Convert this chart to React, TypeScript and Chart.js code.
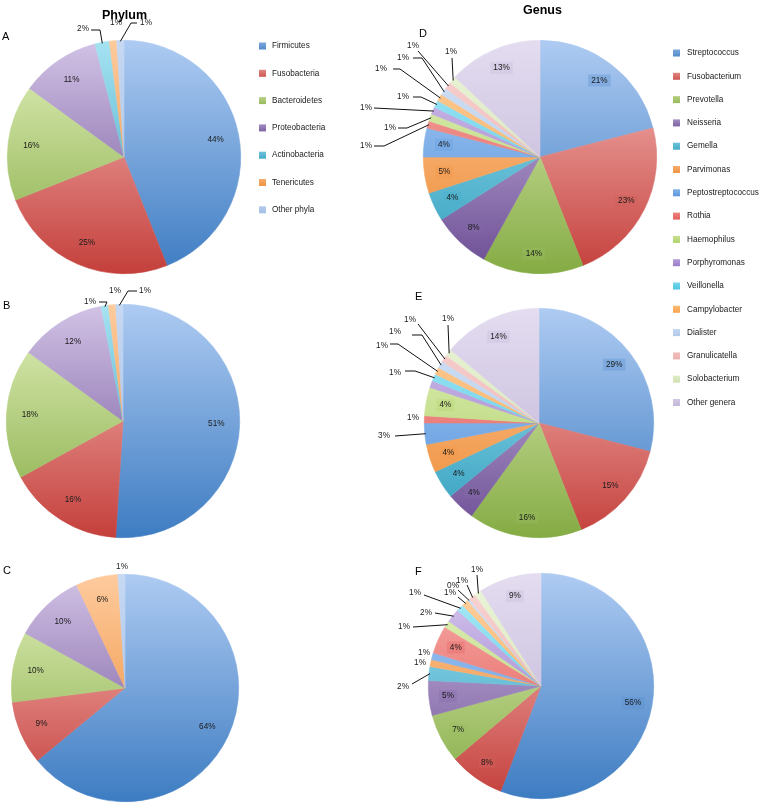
import React, { useEffect, useRef } from "react";
import { Chart, registerables } from "chart.js";

Chart.register(...registerables);

// ---------------- data ----------------
const phylumCategories = [
  "Firmicutes",
  "Fusobacteria",
  "Bacteroidetes",
  "Proteobacteria",
  "Actinobacteria",
  "Tenericutes",
  "Other phyla",
];
const phylumA = [44, 25, 16, 11, 2, 1, 1];
const phylumB = [51, 16, 18, 12, 1, 1, 1];
const phylumC = [64, 9, 10, 10, 0, 6, 1];

const genusCategories = [
  "Streptococcus",
  "Fusobacterium",
  "Prevotella",
  "Neisseria",
  "Gemella",
  "Parvimonas",
  "Peptostreptococcus",
  "Rothia",
  "Haemophilus",
  "Porphyromonas",
  "Veillonella",
  "Campylobacter",
  "Dialister",
  "Granulicatella",
  "Solobacterium",
  "Other genera",
];
const genusD = [21, 23, 14, 8, 4, 5, 4, 1, 1, 1, 1, 1, 1, 1, 1, 13];
const genusE = [29, 15, 16, 4, 4, 4, 3, 1, 4, 1, 1, 1, 1, 1, 1, 14];
const genusF = [56, 8, 7, 5, 2, 1, 1, 4, 1, 2, 1, 1, 0.3, 1, 1, 9];

// ---------------- styles ----------------
const FONT = '"Liberation Sans", Arial, Helvetica, sans-serif';

const baseColors: [string, string][] = [
  ["#AECBF2", "#3D7CC2"],
  ["#F8BFBC", "#C43F3B"],
  ["#E2F0BC", "#84AB43"],
  ["#D2C3E6", "#6A4B93"],
  ["#A6E3F2", "#2C9CBC"],
  ["#FECB9E", "#EC862C"],
];
const phylumColors: [string, string][] = [...baseColors, ["#C6D9F3", "#9CB8E2"]];
const genusColors: [string, string][] = [
  ...baseColors,
  ["#AFCFF6", "#4A8CD8"],
  ["#F9B3B0", "#DD4A45"],
  ["#E6F4C4", "#A3C955"],
  ["#D9CBF0", "#8B68C0"],
  ["#B2EDF9", "#33BBDC"],
  ["#FFD3A6", "#F69A36"],
  ["#D3E2F5", "#ABC5E9"],
  ["#F9D6D5", "#E6A5A3"],
  ["#ECF5DA", "#CADDA8"],
  ["#E4DDF0", "#BAADD3"],
];

function hexToRgb(h: string) {
  const n = parseInt(h.slice(1), 16);
  return [(n >> 16) & 255, (n >> 8) & 255, n & 255];
}
function mix(a: string, b: string, t: number, alpha = 1) {
  const A = hexToRgb(a);
  const B = hexToRgb(b);
  const c = A.map((v, k) => Math.round(v + (B[k] - v) * t));
  return `rgba(${c[0]},${c[1]},${c[2]},${alpha})`;
}

type Ext = { i: number; t: [number, number]; p: [number, number][] };

// external label layout (relative to pie centre, px)
const extA: Ext[] = [
  { i: 4, t: [-41, -128], p: [[-33, -127], [-24, -127]] },
  { i: 5, t: [-8, -134], p: [] },
  { i: 6, t: [22, -134], p: [[13, -134], [7, -134]] },
];
const extB: Ext[] = [
  { i: 4, t: [-33, -119], p: [[-24, -119], [-16, -119]] },
  { i: 5, t: [-8, -130], p: [] },
  { i: 6, t: [22, -130], p: [[14, -130], [5, -130]] },
];
const extC: Ext[] = [{ i: 6, t: [-3, -121], p: [] }];
const extD: Ext[] = [
  { i: 14, t: [-89, -105], p: [[-88, -99]] },
  { i: 13, t: [-127, -111], p: [[-122, -106]] },
  { i: 12, t: [-137, -99], p: [[-127, -99], [-118, -99]] },
  { i: 11, t: [-159, -88], p: [[-147, -88], [-140, -88]] },
  { i: 10, t: [-137, -60], p: [[-127, -60], [-119, -60]] },
  { i: 9, t: [-174, -49], p: [[-166, -49]] },
  { i: 8, t: [-150, -29], p: [[-142, -29], [-133, -29]] },
  { i: 7, t: [-174, -11], p: [[-166, -11], [-156, -11]] },
];
const extE: Ext[] = [
  { i: 14, t: [-91, -104], p: [[-91, -98]] },
  { i: 13, t: [-129, -103], p: [[-121, -99]] },
  { i: 12, t: [-144, -91], p: [[-127, -88], [-117, -88]] },
  { i: 11, t: [-157, -77], p: [[-149, -79], [-141, -79]] },
  { i: 10, t: [-144, -50], p: [[-134, -52], [-124, -52]] },
  { i: 7, t: [-126, -5], p: [] },
  { i: 6, t: [-155, 13], p: [[-144, 13]] },
];
const extF: Ext[] = [
  { i: 14, t: [-64, -116], p: [[-64, -111]] },
  { i: 13, t: [-79, -105], p: [[-74, -101]] },
  { i: 12, t: [-88, -100], p: [[-83, -96]] },
  { i: 11, t: [-91, -93], p: [[-83, -89]] },
  { i: 10, t: [-126, -93], p: [[-117, -91]] },
  { i: 9, t: [-115, -73], p: [[-106, -73]] },
  { i: 8, t: [-137, -59], p: [[-128, -59]] },
  { i: 6, t: [-117, -33], p: [] },
  { i: 5, t: [-121, -23], p: [] },
  { i: 4, t: [-138, 1], p: [[-129, -2]] },
];

type TextItem = { s: string; x: number; y: number; font: string; align: CanvasTextAlign };
type LegendSpec = { x: number; textX: number; y0: number; step: number };

type Spec = {
  key: string;
  left: number;
  top: number;
  w: number;
  h: number;
  pad: { left: number; top: number; right: number; bottom: number };
  labels: string[];
  values: number[];
  colors: [string, string][];
  ext: Ext[];
  hidden: number[];
  k: number;
  box: boolean;
  texts: TextItem[];
  legend?: LegendSpec;
};

const letterFont = `11px ${FONT}`;
const titleFont = `bold 12.5px ${FONT}`;

const specs: Spec[] = [
  {
    key: "A", left: 0, top: 0, w: 370, h: 290,
    pad: { left: 7, top: 40, right: 129, bottom: 16 },
    labels: phylumCategories, values: phylumA, colors: phylumColors,
    ext: extA, hidden: [], k: 0.8, box: false,
    texts: [
      { s: "Phylum", x: 124.5, y: 19, font: titleFont, align: "center" },
      { s: "A", x: 2, y: 40, font: letterFont, align: "left" },
    ],
    legend: { x: 259, textX: 272, y0: 46, step: 27.3 },
  },
  {
    key: "B", left: 0, top: 285, w: 260, h: 265,
    pad: { left: 6, top: 19, right: 20, bottom: 12 },
    labels: phylumCategories, values: phylumB, colors: phylumColors,
    ext: extB, hidden: [], k: 0.8, box: false,
    texts: [{ s: "B", x: 3, y: 309, font: letterFont, align: "left" }],
  },
  {
    key: "C", left: 0, top: 550, w: 260, h: 261,
    pad: { left: 11, top: 24, right: 21, bottom: 9 },
    labels: phylumCategories, values: phylumC, colors: phylumColors,
    ext: extC, hidden: [], k: 0.8, box: false,
    texts: [{ s: "C", x: 3, y: 574, font: letterFont, align: "left" }],
  },
  {
    key: "D", left: 350, top: 0, w: 412, h: 420,
    pad: { left: 73, top: 40, right: 105, bottom: 146 },
    labels: genusCategories, values: genusD, colors: genusColors,
    ext: extD, hidden: [], k: 0.83, box: true,
    texts: [
      { s: "Genus", x: 542.5, y: 14, font: titleFont, align: "center" },
      { s: "D", x: 419, y: 37, font: letterFont, align: "left" },
    ],
    legend: { x: 673, textX: 687, y0: 53, step: 23.3 },
  },
  {
    key: "E", left: 350, top: 285, w: 310, h: 265,
    pad: { left: 74, top: 23, right: 6, bottom: 12 },
    labels: genusCategories, values: genusE, colors: genusColors,
    ext: extE, hidden: [9], k: 0.83, box: true,
    texts: [{ s: "E", x: 415, y: 300, font: letterFont, align: "left" }],
  },
  {
    key: "F", left: 350, top: 550, w: 310, h: 261,
    pad: { left: 78, top: 23, right: 6, bottom: 12 },
    labels: genusCategories, values: genusF, colors: genusColors,
    ext: extF, hidden: [], k: 0.83, box: true,
    texts: [{ s: "F", x: 415, y: 575, font: letterFont, align: "left" }],
  },
];

function gradientFill(colors: [string, string][]) {
  return (ctx: any) => {
    const pair = colors[ctx.dataIndex % colors.length];
    const chart = ctx.chart;
    const area = chart.chartArea;
    if (!area) return pair[1];
    const cy = (area.top + area.bottom) / 2;
    const r = Math.min(area.right - area.left, area.bottom - area.top) / 2;
    const g = chart.ctx.createLinearGradient(0, cy - r, 0, cy + r);
    g.addColorStop(0, pair[0]);
    g.addColorStop(1, pair[1]);
    return g;
  };
}

function decorPlugin(spec: Spec) {
  return {
    id: "decor" + spec.key,
    afterDraw(chart: any) {
      const c: CanvasRenderingContext2D = chart.ctx;
      const meta = chart.getDatasetMeta(0);
      const values: number[] = chart.data.datasets[0].data;
      const arcs = meta.data;
      const extSet = new Set(spec.ext.map((e) => e.i));
      c.save();
      c.font = `8.2px ${FONT}`;
      c.textAlign = "center";
      c.textBaseline = "middle";

      // inner labels
      arcs.forEach((arc: any, i: number) => {
        const v = values[i];
        if (!(v > 0) || extSet.has(i) || spec.hidden.includes(i)) return;
        const p = arc.getProps(["x", "y", "startAngle", "endAngle", "outerRadius"], true);
        const mid = (p.startAngle + p.endAngle) / 2;
        const lx = p.x + Math.cos(mid) * p.outerRadius * spec.k;
        const ly = p.y + Math.sin(mid) * p.outerRadius * spec.k;
        const txt = Math.round(v) + "%";
        if (spec.box) {
          const tw = c.measureText(txt).width;
          const pair = spec.colors[i % spec.colors.length];
          c.fillStyle = mix(pair[0], pair[1], 0.75, 0.35);
          c.fillRect(lx - tw / 2 - 3, ly - 6, tw + 6, 12);
        }
        c.fillStyle = "#1a1a1a";
        c.fillText(txt, lx, ly);
      });

      // outer labels with leader lines
      c.strokeStyle = "#111";
      c.lineWidth = 1;
      spec.ext.forEach((e) => {
        const arc = arcs[e.i];
        if (!arc) return;
        const p = arc.getProps(["x", "y", "startAngle", "endAngle", "outerRadius"], true);
        const mid = (p.startAngle + p.endAngle) / 2;
        const ex = p.x + Math.cos(mid) * (p.outerRadius - 1);
        const ey = p.y + Math.sin(mid) * (p.outerRadius - 1);
        if (e.p.length) {
          c.beginPath();
          c.moveTo(p.x + e.p[0][0], p.y + e.p[0][1]);
          for (let k = 1; k < e.p.length; k++) c.lineTo(p.x + e.p[k][0], p.y + e.p[k][1]);
          c.lineTo(ex, ey);
          c.stroke();
        }
        c.fillStyle = "#1a1a1a";
        c.fillText(Math.round(values[e.i]) + "%", p.x + e.t[0], p.y + e.t[1]);
      });

      // titles and panel letters
      spec.texts.forEach((t) => {
        c.font = t.font;
        c.textAlign = t.align;
        c.textBaseline = "alphabetic";
        c.fillStyle = "#000";
        c.fillText(t.s, t.x - spec.left, t.y - spec.top);
      });

      // legend
      if (spec.legend) {
        const L = spec.legend;
        c.font = `8.2px ${FONT}`;
        c.textAlign = "left";
        c.textBaseline = "middle";
        (chart.data.labels as string[]).forEach((name, i) => {
          const cy = L.y0 + i * L.step - spec.top;
          const sx = L.x - spec.left;
          const pair = spec.colors[i % spec.colors.length];
          const g = c.createLinearGradient(0, cy - 3.5, 0, cy + 3.5);
          g.addColorStop(0, mix(pair[0], pair[1], 0.45));
          g.addColorStop(1, mix(pair[0], pair[1], 0.8));
          c.fillStyle = g;
          c.fillRect(sx, cy - 3.5, 7, 7);
          c.fillStyle = "#1a1a1a";
          c.fillText(name, L.textX - spec.left, cy);
        });
      }
      c.restore();
    },
  };
}

function PieCanvas({ spec }: { spec: Spec }) {
  const ref = useRef<HTMLCanvasElement>(null);
  useEffect(() => {
    if (!ref.current) return;
    const fill = gradientFill(spec.colors);
    const chart = new Chart(ref.current, {
      type: "pie",
      data: {
        labels: spec.labels,
        datasets: [
          {
            data: spec.values,
            backgroundColor: fill as any,
            borderColor: fill as any,
            borderWidth: ((ctx: any) => (ctx.raw > 0 ? 0.6 : 0)) as any,
          },
        ],
      },
      options: {
        responsive: false,
        animation: false,
        layout: { padding: spec.pad },
        plugins: {
          legend: { display: false },
          tooltip: { enabled: false },
          title: { display: false },
        },
      },
      plugins: [decorPlugin(spec)],
    });
    return () => chart.destroy();
  }, [spec]);
  return (
    <canvas
      ref={ref}
      width={spec.w}
      height={spec.h}
      style={{ position: "absolute", left: spec.left, top: spec.top, width: spec.w, height: spec.h }}
    />
  );
}

export default function App() {
  return (
    <div
      style={{
        position: "absolute",
        left: 0,
        top: 0,
        width: 762,
        height: 811,
        background: "#ffffff",
        overflow: "hidden",
      }}
    >
      {specs.map((s) => (
        <PieCanvas key={s.key} spec={s} />
      ))}
    </div>
  );
}
